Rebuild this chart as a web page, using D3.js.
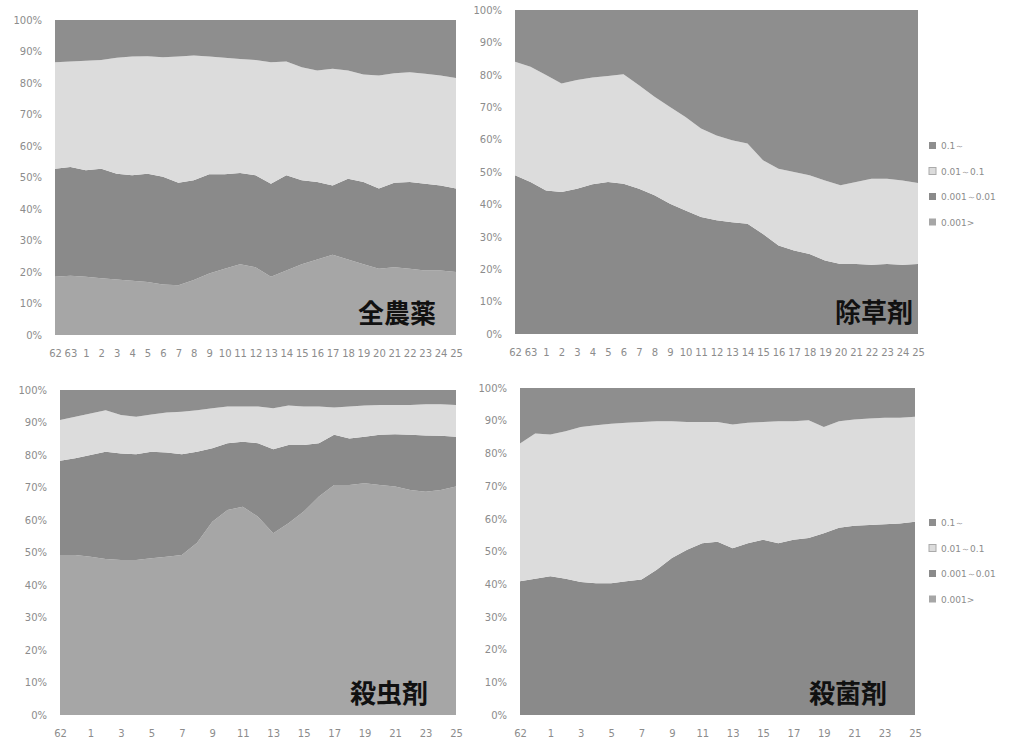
<!DOCTYPE html>
<html>
<head>
<meta charset="utf-8">
<script src="https://cdn.jsdelivr.net/npm/d3@7"></script>
<style>
  body { margin: 0; background: #fff; }
  text { font-family: "DejaVu Sans", "Noto Sans", sans-serif; }
  .title { font-family: "Noto Sans CJK JP", sans-serif; font-weight: 700; }
</style>
</head>
<body>
<div id="container"></div>
<script>
// years: Showa 62, 63, then Heisei 1..25
const years = ["62", "63", "1", "2", "3", "4", "5", "6", "7", "8", "9", "10", "11", "12",
  "13", "14", "15", "16", "17", "18", "19", "20", "21", "22", "23", "24", "25"];

const seriesNames = ["0.1～", "0.01～0.1", "0.001～0.01", "0.001>"];
const seriesColors = ["#8e8e8e", "#dcdcdc", "#8a8a8a", "#a6a6a6"];

// 全農薬 (shares in %, per year)
const allS1 = [13.4, 13.2, 12.9, 12.7, 12.0, 11.6, 11.5, 11.8, 11.6, 11.3, 11.6, 12.0, 12.4, 12.7, 13.4, 13.2, 15.0, 16.0, 15.5, 16.0, 17.3, 17.6, 16.9, 16.6, 17.1, 17.6, 18.4];
const allS2 = [33.8, 33.5, 34.8, 34.5, 36.8, 37.7, 37.3, 38.0, 40.1, 39.6, 37.4, 37.0, 36.2, 36.6, 38.6, 36.1, 35.9, 35.4, 37.0, 34.4, 34.1, 35.9, 34.8, 34.8, 34.9, 34.9, 35.1];
const allS3 = [34.3, 34.5, 33.8, 34.8, 33.6, 33.5, 34.4, 34.2, 32.5, 31.6, 31.5, 30.0, 28.9, 29.2, 29.5, 30.2, 26.6, 24.6, 22.0, 25.6, 26.1, 25.5, 26.8, 27.6, 27.5, 27.0, 26.5];
const allS4 = [18.5, 18.8, 18.5, 18.0, 17.6, 17.2, 16.8, 16.0, 15.8, 17.5, 19.5, 21.0, 22.5, 21.5, 18.5, 20.5, 22.5, 24.0, 25.5, 24.0, 22.5, 21.0, 21.5, 21.0, 20.5, 20.5, 20.0];

// 除草剤
const herbS1 = [16.0, 17.5, 20.1, 22.7, 21.6, 20.8, 20.4, 19.8, 23.2, 26.8, 29.9, 33.0, 36.6, 38.7, 40.2, 41.2, 46.4, 49.0, 50.0, 51.0, 52.6, 54.1, 53.1, 52.1, 52.1, 52.6, 53.4];
const herbS2 = [35.0, 35.6, 35.6, 33.5, 33.6, 33.0, 32.7, 33.8, 32.0, 30.4, 29.9, 28.9, 27.3, 26.2, 25.3, 24.8, 22.7, 23.7, 24.2, 24.3, 24.7, 24.3, 25.3, 26.5, 26.3, 26.0, 25.0];
const herbS3 = [49.0, 46.9, 44.3, 43.8, 44.8, 46.2, 46.9, 46.4, 44.8, 42.8, 40.2, 38.1, 36.1, 35.1, 34.5, 34.0, 30.9, 27.3, 25.8, 24.7, 22.7, 21.6, 21.6, 21.4, 21.6, 21.4, 21.6];
const herbS4 = [0, 0, 0, 0, 0, 0, 0, 0, 0, 0, 0, 0, 0, 0, 0, 0, 0, 0, 0, 0, 0, 0, 0, 0, 0, 0, 0];

// 殺虫剤
const insS1 = [9.2, 8.2, 7.2, 6.2, 7.7, 8.2, 7.5, 6.9, 6.7, 6.2, 5.6, 5.1, 5.1, 5.1, 5.6, 4.8, 5.1, 5.1, 5.4, 5.1, 4.8, 4.6, 4.6, 4.6, 4.4, 4.4, 4.6];
const insS2 = [12.6, 12.8, 12.8, 12.8, 11.8, 11.6, 11.5, 12.3, 13.1, 12.8, 12.3, 11.3, 10.8, 11.3, 12.6, 12.1, 11.8, 11.3, 8.4, 9.8, 9.6, 9.2, 9.0, 9.2, 9.6, 9.7, 9.8];
const insS3 = [29.0, 29.8, 31.3, 33.0, 32.8, 32.5, 32.8, 32.1, 31.0, 28.0, 22.6, 20.5, 20.0, 22.6, 25.9, 24.1, 20.5, 16.4, 15.4, 14.3, 14.3, 15.4, 16.1, 17.0, 17.3, 16.7, 15.3];
const insS4 = [49.2, 49.2, 48.7, 48.0, 47.7, 47.7, 48.2, 48.7, 49.2, 53.0, 59.5, 63.1, 64.1, 61.0, 55.9, 59.0, 62.6, 67.2, 70.8, 70.8, 71.3, 70.8, 70.3, 69.2, 68.7, 69.2, 70.3];

// 殺菌剤
const fungS1 = [17.0, 13.9, 14.2, 13.2, 11.9, 11.4, 10.9, 10.6, 10.4, 10.2, 10.2, 10.4, 10.4, 10.4, 11.2, 10.6, 10.4, 10.2, 10.2, 9.9, 11.9, 10.2, 9.6, 9.3, 9.1, 9.1, 8.8];
const fungS2 = [42.1, 44.4, 43.4, 45.1, 47.4, 48.3, 48.8, 48.5, 48.2, 45.4, 41.8, 39.1, 37.1, 36.6, 37.8, 36.9, 36.0, 37.3, 36.2, 36.0, 32.5, 32.5, 32.5, 32.6, 32.6, 32.3, 32.1];
const fungS3 = [40.9, 41.7, 42.4, 41.7, 40.7, 40.3, 40.3, 40.9, 41.4, 44.4, 48.0, 50.5, 52.5, 53.0, 51.0, 52.5, 53.6, 52.5, 53.6, 54.1, 55.6, 57.3, 57.9, 58.1, 58.3, 58.6, 59.1];
const fungS4 = [0, 0, 0, 0, 0, 0, 0, 0, 0, 0, 0, 0, 0, 0, 0, 0, 0, 0, 0, 0, 0, 0, 0, 0, 0, 0, 0];

const yTicks = [0, 0.1, 0.2, 0.3, 0.4, 0.5, 0.6, 0.7, 0.8, 0.9, 1];

const panels = [
  { title: "全農薬", series: [allS1, allS2, allS3, allS4], x0: 55, x1: 456, y0: 20, y1: 335, xEvery: 1, legend: false, tx: 436, ty: 323 },
  { title: "除草剤", series: [herbS1, herbS2, herbS3, herbS4], x0: 515, x1: 918, y0: 10, y1: 334, xEvery: 1, legend: true, ly: 146, tx: 913, ty: 322 },
  { title: "殺虫剤", series: [insS1, insS2, insS3, insS4], x0: 60, x1: 456, y0: 390, y1: 715, xEvery: 2, legend: false, tx: 428, ty: 703 },
  { title: "殺菌剤", series: [fungS1, fungS2, fungS3, fungS4], x0: 520, x1: 915, y0: 388, y1: 715, xEvery: 2, legend: true, ly: 523, tx: 887, ty: 703 }
];

const svg = d3.select("#container").append("svg")
    .attr("width", 1021)
    .attr("height", 744);

svg.append("rect").attr("width", 1021).attr("height", 744).attr("fill", "#fff");

panels.forEach(p => {
    // table of rows, one per year, keyed by series name
    const rows = years.map((yr, i) => {
        const row = { year: yr };
        seriesNames.forEach((name, k) => { row[name] = p.series[k][i]; });
        return row;
    });

    // bottom of the stack first
    const keys = seriesNames.slice().reverse();
    const stacked = d3.stack()
        .keys(keys)
        .offset(d3.stackOffsetExpand)(rows);

    const x = d3.scalePoint()
        .domain(years)
        .range([p.x0, p.x1])
        .padding(0);

    const y = d3.scaleLinear()
        .domain([0, 1])
        .range([p.y1, p.y0]);

    const area = d3.area()
        .x(d => x(d.data.year))
        .y0(d => y(d[0]))
        .y1(d => y(d[1]));

    const g = svg.append("g");

    g.selectAll("path")
        .data(stacked)
      .enter().append("path")
        .attr("d", area)
        .attr("fill", d => seriesColors[seriesNames.indexOf(d.key)]);

    // y axis, labels only
    const yAxis = g.append("g")
        .attr("transform", `translate(${p.x0},0)`)
        .call(d3.axisLeft(y).tickValues(yTicks).tickFormat(d3.format(".0%")).tickSize(0).tickPadding(13));
    yAxis.select(".domain").remove();
    yAxis.selectAll("text").attr("fill", "#8c8c8c").style("font-size", "10px");

    // x axis, labels only
    const xAxis = g.append("g")
        .attr("transform", `translate(0,${p.y1})`)
        .call(d3.axisBottom(x)
            .tickValues(years.filter((d, i) => i % p.xEvery === 0))
            .tickSize(0).tickPadding(15));
    xAxis.select(".domain").remove();
    xAxis.selectAll("text").attr("fill", "#8c8c8c").style("font-size", "10px");

    g.append("text")
        .attr("class", "title")
        .attr("x", p.tx)
        .attr("y", p.ty)
        .attr("text-anchor", "end")
        .style("font-size", "26px")
        .attr("fill", "#111")
        .text(p.title);

    if (p.legend) {
        const lg = g.append("g").attr("transform", `translate(929,${p.ly})`);
        seriesNames.forEach((name, k) => {
            lg.append("rect")
                .attr("x", 0)
                .attr("y", k * 25.5 - 4)
                .attr("width", 7)
                .attr("height", 7)
                .attr("fill", seriesColors[k])
                .attr("stroke", k === 1 ? "#aaa" : "none");
            lg.append("text")
                .attr("x", 12)
                .attr("y", k * 25.5)
                .attr("dy", "0.35em")
                .attr("fill", "#8c8c8c")
                .style("font-size", "9px")
                .text(name);
        });
    }
});
</script>
</body>
</html>
